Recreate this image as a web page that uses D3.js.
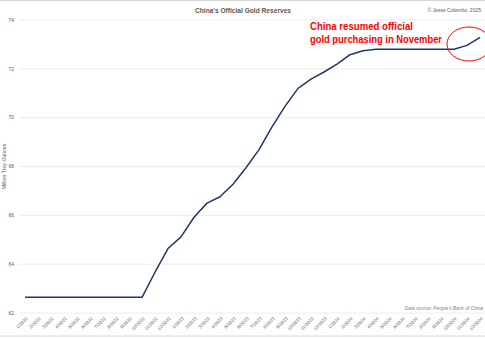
<!DOCTYPE html>
<html>
<head>
<meta charset="utf-8">
<script src="https://cdn.jsdelivr.net/npm/d3@7"></script>
<style>
  body { margin: 0; background: #fff; }
  svg { display: block; font-family: "Liberation Sans", Arial, sans-serif; }
</style>
</head>
<body>
<svg id="chart" width="485" height="338"></svg>
<script>
// months 1/2022 .. 12/2024
const months = [];
[2022, 2023, 2024].forEach((yr) => {
  for (let m = 1; m <= 12; m++) months.push(`${m}/${yr}`);
});

// million troy ounces
const reserves = [
  62.64, 62.64, 62.64, 62.64, 62.64, 62.64, 62.64, 62.64, 62.64, 62.64, 63.67, 64.64,
  65.12, 65.92, 66.50, 66.76, 67.27, 67.95, 68.69, 69.62, 70.46, 71.20, 71.58, 71.87,
  72.19, 72.58, 72.74, 72.80, 72.80, 72.80, 72.80, 72.80, 72.80, 72.80, 72.96, 73.29,
];

const yTicks = [62, 64, 66, 68, 70, 72, 74];

const svg = d3.select("#chart");
const width = 485;
const height = 338;

// frame
svg.append("rect")
  .attr("x", -1).attr("y", 0.5)
  .attr("width", width + 2).attr("height", 335.5)
  .attr("fill", "#fff")
  .attr("stroke", "#d9d9d9");

const x = d3.scalePoint().domain(months).range([18.5, 486.5]).padding(0.5);
const y = d3.scaleLinear().domain([62, 74]).range([313, 20]);

// gridlines
svg.append("g")
  .selectAll("line")
  .data(yTicks)
  .join("line")
  .attr("x1", 19)
  .attr("x2", width)
  .attr("y1", (d) => y(d))
  .attr("y2", (d) => y(d))
  .attr("stroke", "#ececec")
  .attr("stroke-width", 1);

// y tick labels
svg.append("g")
  .selectAll("text")
  .data(yTicks)
  .join("text")
  .attr("x", 14)
  .attr("y", (d) => y(d))
  .attr("dy", "0.35em")
  .attr("text-anchor", "end")
  .attr("font-size", 5)
  .attr("fill", "#595959")
  .text((d) => d);

// y axis title
svg.append("text")
  .attr("transform", `translate(6,${y(68)}) rotate(-90)`)
  .attr("text-anchor", "middle")
  .attr("font-size", 5.2)
  .attr("fill", "#595959")
  .text("Million Troy Ounces");

// x tick labels, rotated
svg.append("g")
  .selectAll("text")
  .data(months)
  .join("text")
  .attr("transform", (d) => `translate(${x(d) + 3},319) rotate(-45)`)
  .attr("text-anchor", "end")
  .attr("font-size", 4.6)
  .attr("fill", "#595959")
  .text((d) => d);

// line
const line = d3.line()
  .x((d, i) => x(months[i]))
  .y((d) => y(d));

svg.append("path")
  .datum(reserves)
  .attr("d", line)
  .attr("fill", "none")
  .attr("stroke", "#1f3864")
  .attr("stroke-width", 1.5)
  .attr("stroke-linejoin", "round");

// title + credit
svg.append("text")
  .attr("x", 243)
  .attr("y", 12.5)
  .attr("text-anchor", "middle")
  .attr("font-size", 7)
  .attr("font-weight", "bold")
  .attr("fill", "#595959")
  .attr("textLength", 96)
  .attr("lengthAdjust", "spacingAndGlyphs")
  .text("China's Official Gold Reserves");

svg.append("text")
  .attr("x", 481)
  .attr("y", 12)
  .attr("text-anchor", "end")
  .attr("font-size", 5)
  .attr("fill", "#595959")
  .text("© Jesse Colombo, 2025");

// data source
svg.append("text")
  .attr("x", 483)
  .attr("y", 310)
  .attr("text-anchor", "end")
  .attr("font-size", 4.8)
  .attr("font-style", "italic")
  .attr("fill", "#7f7f7f")
  .text("Data source: People's Bank of China");

// annotation
const note = svg.append("g")
  .attr("font-weight", "bold")
  .attr("font-size", 11)
  .attr("fill", "#ff0000");

note.append("text")
  .attr("x", 310).attr("y", 29.5)
  .attr("textLength", 103)
  .attr("lengthAdjust", "spacingAndGlyphs")
  .text("China resumed official");

note.append("text")
  .attr("x", 310).attr("y", 42.5)
  .attr("textLength", 132)
  .attr("lengthAdjust", "spacingAndGlyphs")
  .text("gold purchasing in November");

svg.append("ellipse")
  .attr("cx", x(months[35]) - 11)
  .attr("cy", 44)
  .attr("rx", 22)
  .attr("ry", 17)
  .attr("fill", "none")
  .attr("stroke", "#ff0000")
  .attr("stroke-width", 1);
</script>
</body>
</html>
